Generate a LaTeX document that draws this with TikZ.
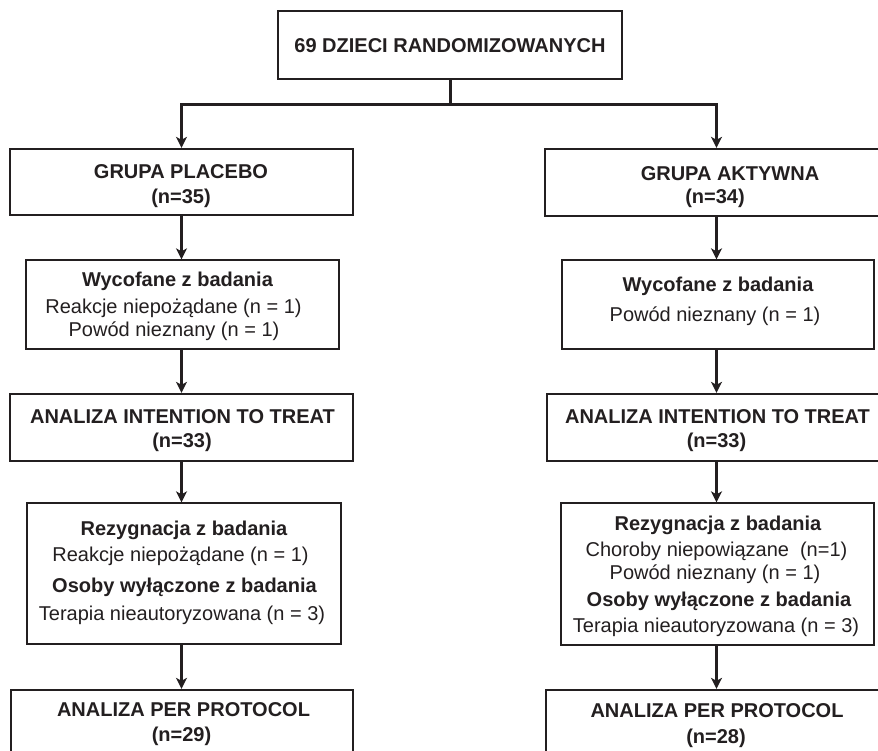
\documentclass[tikz,border=0pt]{standalone}
\usepackage{fontspec}
\setmainfont{Liberation Sans}
\usetikzlibrary{arrows.meta}
\definecolor{ink}{HTML}{231F20}
\begin{document}
\begin{tikzpicture}[x=1pt,y=-1pt,
  boldbox/.style={draw=ink,line width=2.3pt,inner sep=0pt},
  thinbox/.style={draw=ink,line width=1.3pt,inner sep=0pt},
  hd/.style={anchor=base,inner sep=0pt,font=\fontsize{20}{24}\selectfont\bfseries,text=ink},
  tx/.style={anchor=base,inner sep=0pt,font=\fontsize{20}{24}\selectfont,text=ink},
  arr/.style={draw=ink,line width=3pt,-{Stealth[length=11pt,width=11pt,inset=3pt]}},
  ln/.style={draw=ink,line width=3pt}]
\useasboundingbox (0,0) rectangle (878,751);
\fill[white] (0,0) rectangle (878,751);

% boxes
\node[boldbox,minimum width=344pt,minimum height=68pt] (top) at (450,45) {};
\node[boldbox,minimum width=343pt,minimum height=66pt] (plac) at (181.5,182) {};
\node[boldbox,minimum width=343pt,minimum height=67pt] (akt) at (716.5,182.5) {};
\node[thinbox,minimum width=313pt,minimum height=89pt] (wycL) at (182.5,304.5) {};
\node[thinbox,minimum width=312pt,minimum height=89pt] (wycR) at (718,304.5) {};
\node[boldbox,minimum width=343pt,minimum height=67pt] (ittL) at (181.5,427.5) {};
\node[boldbox,minimum width=343pt,minimum height=67pt] (ittR) at (718.5,427.5) {};
\node[thinbox,minimum width=314pt,minimum height=141pt] (rezL) at (184,573.5) {};
\node[thinbox,minimum width=313pt,minimum height=142pt] (rezR) at (717.5,574) {};
\node[boldbox,minimum width=342pt,minimum height=100pt] (ppL) at (182,740) {};
\node[boldbox,minimum width=343pt,minimum height=100pt] (ppR) at (717.5,740) {};

% connectors
\draw[ln] (top.south) -- ++(0,24) coordinate (split);
\draw[arr] (split) -| (plac.north);
\draw[arr] (split) -| (akt.north);
\draw[arr] (plac.south) -- (plac.south |- wycL.north);
\draw[arr] (plac.south |- wycL.south) -- (plac.south |- ittL.north);
\draw[arr] (plac.south |- ittL.south) -- (plac.south |- rezL.north);
\draw[arr] (plac.south |- rezL.south) -- (plac.south |- ppL.north);
\draw[arr] (akt.south) -- (akt.south |- wycR.north);
\draw[arr] (akt.south |- wycR.south) -- (akt.south |- ittR.north);
\draw[arr] (akt.south |- ittR.south) -- (akt.south |- rezR.north);
\draw[arr] (akt.south |- rezR.south) -- (akt.south |- ppR.north);

% texts
\node[hd] (t0) at (450,52.5) {69 DZIECI RANDOMIZOWANYCH};
\node[hd] (p1) at (181,179) {GRUPA PLACEBO};
\node[hd] (p2) at (181,204) {(n=35)};
\node[hd] (a1) at (730,181) {GRUPA AKTYWNA};
\node[hd] (a2) at (715,204) {(n=34)};
\node[hd] (wl1) at (177.5,287) {Wycofane z badania};
\node[tx] (wl2) at (173.5,313) {Reakcje niepożądane (n = 1)};
\node[tx] (wl3) at (174,337) {Powód nieznany (n = 1)};
\node[hd] (wr1) at (718,291) {Wycofane z badania};
\node[tx] (wr2) at (715,321) {Powód nieznany (n = 1)};
\node[hd] (il1) at (182.5,423) {ANALIZA INTENTION TO TREAT};
\node[hd] (il2) at (182,447) {(n=33)};
\node[hd] (ir1) at (717.5,423) {ANALIZA INTENTION TO TREAT};
\node[hd] (ir2) at (716.5,447) {(n=33)};
\node[hd] (rl1) at (184,535) {Rezygnacja z badania};
\node[tx] (rl2) at (180.5,561.5) {Reakcje niepożądane (n = 1)};
\node[hd] (rl3) at (184.5,592.5) {Osoby wyłączone z badania};
\node[tx] (rl4) at (182,620.5) {Terapia nieautoryzowana (n = 3)};
\node[hd] (rr1) at (718,530.5) {Rezygnacja z badania};
\node[tx] (rr2) at (716.5,556.5) {Choroby niepowiązane\hspace{0.55em}(n=1)};
\node[tx] (rr3) at (715,579) {Powód nieznany (n = 1)};
\node[hd] (rr4) at (719,606.5) {Osoby wyłączone z badania};
\node[tx] (rr5) at (716,632.5) {Terapia nieautoryzowana (n = 3)};
\node[hd] (pl1) at (183.5,716) {ANALIZA PER PROTOCOL};
\node[hd] (pl2) at (181.5,741.5) {(n=29)};
\node[hd] (pr1) at (717,717.5) {ANALIZA PER PROTOCOL};
\node[hd] (pr2) at (716,743) {(n=28)};
\end{tikzpicture}
\end{document}
